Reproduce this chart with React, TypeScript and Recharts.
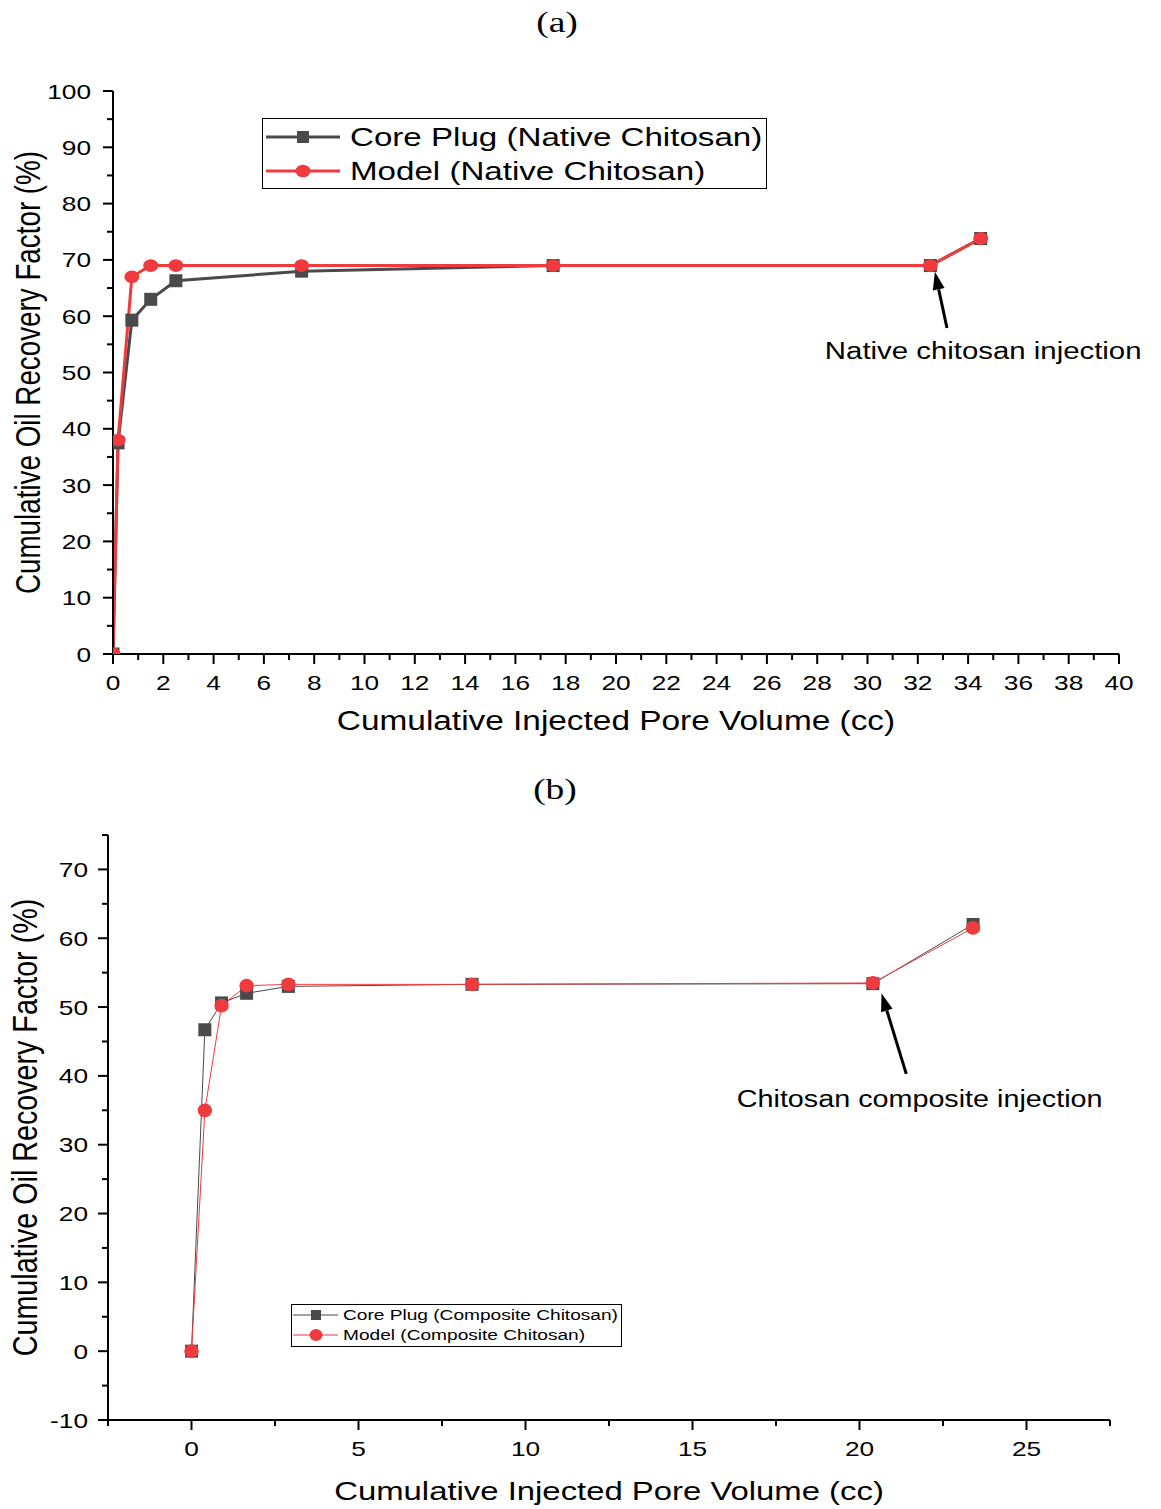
import React from "react";
import {
  LineChart,
  Line,
  XAxis,
  YAxis,
  Legend,
  Label,
  ReferenceLine,
  ReferenceDot
} from "recharts";

// ---- data: panel (a) native chitosan ----
const nativeX = [0, 0.2, 0.75, 1.5, 2.5, 7.5, 17.5, 32.5, 34.5];
const nativeCore = [0, 37.5, 59.3, 63, 66.3, 68, 69, 69, 73.8];
const nativeModel = [0, 38, 67, 69, 69, 69, 69, 69, 73.8];

// ---- data: panel (b) composite chitosan ----
const compositeX = [0, 0.4, 0.9, 1.65, 2.9, 8.4, 20.4, 23.4];
const compositeCore = [0, 46.7, 50.6, 52, 53, 53.3, 53.4, 62];
const compositeModel = [0, 35, 50.2, 53.1, 53.3, 53.3, 53.5, 61.5];

// ---- axis ticks ----
const nativeXTicks = Array.from({ length: 41 }, (_, i) => i);
const nativeYTicks = Array.from({ length: 21 }, (_, i) => i * 5);
const compositeXTicks = [-2.5, 0, 2.5, 5, 7.5, 10, 12.5, 15, 17.5, 20, 22.5, 25, 27.5];
const compositeYTicks = [-10, -5, 0, 5, 10, 15, 20, 25, 30, 35, 40, 45, 50, 55, 60, 65, 70, 75];

const nativeData = nativeX.map((x, i) => ({ x, core: nativeCore[i], model: nativeModel[i] }));
const compositeData = compositeX.map((x, i) => ({ x, core: compositeCore[i], model: compositeModel[i] }));

const GREY = "#4a4a4a";
const RED = "#ef3b3e";
const FONT = "'Liberation Sans', Arial, sans-serif";
// the original figure is stretched sideways, text included
const SX = 1.25;

const SText = ({ x, y, size, anchor = "middle", rotate = false, family = FONT, children }: any) => (
  <text
    transform={`translate(${x} ${y}) scale(${SX} 1)${rotate ? " rotate(-90)" : ""}`}
    textAnchor={anchor}
    dominantBaseline="central"
    fontSize={size}
    fontFamily={family}
    fill="#000"
  >
    {children}
  </text>
);

const SquareDot = ({ cx, cy, size }: any) => {
  if (cx == null || cy == null) return null;
  return <rect x={cx - size / 2} y={cy - size / 2} width={size} height={size} fill={GREY} />;
};

const CircleDot = ({ cx, cy, rx, ry }: any) => {
  if (cx == null || cy == null) return null;
  return <ellipse cx={cx} cy={cy} rx={rx} ry={ry} fill={RED} />;
};

const makeXTick = (step: number) => (props: any) => {
  const { x, y, payload } = props;
  const v = payload.value;
  const major = Math.abs(v / step - Math.round(v / step)) < 1e-6;
  return (
    <g>
      <line x1={x} x2={x} y1={y} y2={y + (major ? 10 : 6)} stroke="#000" strokeWidth={2} />
      {major && <SText x={x} y={y + 28} size={21}>{v}</SText>}
    </g>
  );
};

const makeYTick = (step: number, gap: number) => (props: any) => {
  const { x, y, payload } = props;
  const v = payload.value;
  const major = Math.abs(v / step - Math.round(v / step)) < 1e-6;
  return (
    <g>
      <line x1={x} x2={x - (major ? 10 : 6)} y1={y} y2={y} stroke="#000" strokeWidth={2} />
      {major && <SText x={x - gap} y={y} size={21} anchor="end">{v}</SText>}
    </g>
  );
};

const xTitle = (text: string, dy: number, size: number) => (props: any) => {
  const vb = props.viewBox;
  return <SText x={vb.x + vb.width / 2} y={vb.y + dy} size={size}>{text}</SText>;
};

const yTitle = (text: string, dx: number, size: number) => (props: any) => {
  const vb = props.viewBox;
  return <SText x={vb.x + vb.width - dx} y={vb.y + vb.height / 2} size={size} rotate>{text}</SText>;
};

const arrowShape = (width: number) => (props: any) => {
  const { x1, y1, x2, y2 } = props;
  if ([x1, y1, x2, y2].some(v => v == null)) return null;
  const dx = x2 - x1;
  const dy = y2 - y1;
  const len = Math.sqrt(dx * dx + dy * dy);
  const ux = dx / len;
  const uy = dy / len;
  const headL = 18;
  const headW = 6;
  const bx = x2 - ux * headL;
  const by = y2 - uy * headL;
  return (
    <g>
      <line x1={x1} y1={y1} x2={bx} y2={by} stroke="#000" strokeWidth={width} />
      <polygon
        points={`${x2},${y2} ${bx - uy * headW},${by + ux * headW} ${bx + uy * headW},${by - ux * headW}`}
        fill="#000"
      />
    </g>
  );
};

const noteShape = (text: string, size: number) => (props: any) => (
  <SText x={props.cx} y={props.cy} size={size}>{text}</SText>
);

const LegendBox = ({ labels, w, h, rows, lineX, markerX, textX, fontSize, sq, rx, ry, sw }: any) => (
  <div style={{ width: w, height: h, border: "1px solid #000", background: "#fff", boxSizing: "border-box" }}>
    <svg width={w - 2} height={h - 2} style={{ display: "block" }}>
      <line x1={lineX[0]} x2={lineX[1]} y1={rows[0]} y2={rows[0]} stroke={GREY} strokeWidth={sw} />
      <rect x={markerX - sq / 2} y={rows[0] - sq / 2} width={sq} height={sq} fill={GREY} />
      <SText x={textX} y={rows[0]} size={fontSize} anchor="start">{labels[0]}</SText>
      <line x1={lineX[0]} x2={lineX[1]} y1={rows[1]} y2={rows[1]} stroke={RED} strokeWidth={sw} />
      <ellipse cx={markerX} cy={rows[1]} rx={rx} ry={ry} fill={RED} />
      <SText x={textX} y={rows[1]} size={fontSize} anchor="start">{labels[1]}</SText>
    </svg>
  </div>
);

function NativeChart() {
  return (
    <LineChart width={1161} height={760} data={nativeData} margin={{ top: 91, right: 42, bottom: 76, left: 53 }}>
      <XAxis
        dataKey="x"
        type="number"
        domain={[0, 40]}
        allowDataOverflow
        ticks={nativeXTicks}
        interval={0}
        height={30}
        tickSize={0}
        tickMargin={0}
        tickLine={false}
        tick={makeXTick(2)}
        axisLine={{ stroke: "#000", strokeWidth: 2 }}
      >
        <Label content={xTitle("Cumulative Injected Pore Volume (cc)", 67, 26.7)} />
      </XAxis>
      <YAxis
        type="number"
        domain={[0, 100]}
        allowDataOverflow
        ticks={nativeYTicks}
        interval={0}
        width={60}
        tickSize={0}
        tickMargin={0}
        tickLine={false}
        tick={makeYTick(10, 22)}
        axisLine={{ stroke: "#000", strokeWidth: 2 }}
      >
        <Label content={yTitle("Cumulative Oil Recovery Factor (%)", 85, 27.8)} />
      </YAxis>
      <Legend
        layout="vertical"
        align="center"
        verticalAlign="middle"
        wrapperStyle={{ left: 262, top: 118, width: 505 }}
        content={() => (
          <LegendBox
            labels={["Core Plug (Native Chitosan)", "Model (Native Chitosan)"]}
            w={505}
            h={71}
            rows={[18, 52]}
            lineX={[3, 77]}
            markerX={40}
            textX={87}
            fontSize={26.5}
            sq={12}
            rx={7.5}
            ry={6.3}
            sw={3}
          />
        )}
      />
      <Line
        dataKey="core"
        type="linear"
        stroke={GREY}
        strokeWidth={3}
        dot={(p: any) => <SquareDot key={`c${p.index}`} {...p} size={13} />}
        activeDot={false}
        isAnimationActive={false}
      />
      <Line
        dataKey="model"
        type="linear"
        stroke={RED}
        strokeWidth={3}
        dot={(p: any) => <CircleDot key={`m${p.index}`} {...p} rx={7.5} ry={6.4} />}
        activeDot={false}
        isAnimationActive={false}
      />
      <ReferenceLine segment={[{ x: 33.16, y: 57.9 }, { x: 32.68, y: 67.9 }]} shape={arrowShape(3)} />
      <ReferenceDot x={34.6} y={53.8} r={0} shape={noteShape("Native chitosan injection", 23.5)} />
    </LineChart>
  );
}

function CompositeChart() {
  return (
    <LineChart width={1161} height={749} data={compositeData} margin={{ top: 75, right: 51, bottom: 59, left: 48 }}>
      <XAxis
        dataKey="x"
        type="number"
        domain={[-2.5, 27.5]}
        ticks={compositeXTicks}
        interval={0}
        height={30}
        tickSize={0}
        tickMargin={0}
        tickLine={false}
        tick={makeXTick(5)}
        axisLine={{ stroke: "#000", strokeWidth: 2 }}
      >
        <Label content={xTitle("Cumulative Injected Pore Volume (cc)", 71, 26.3)} />
      </XAxis>
      <YAxis
        type="number"
        domain={[-10, 75]}
        ticks={compositeYTicks}
        interval={0}
        width={60}
        tickSize={0}
        tickMargin={0}
        tickLine={false}
        tick={makeYTick(10, 20)}
        axisLine={{ stroke: "#000", strokeWidth: 2 }}
      >
        <Label content={yTitle("Cumulative Oil Recovery Factor (%)", 83, 28.7)} />
      </YAxis>
      <Legend
        layout="vertical"
        align="center"
        verticalAlign="middle"
        wrapperStyle={{ left: 291, top: 544, width: 331 }}
        content={() => (
          <LegendBox
            labels={["Core Plug (Composite Chitosan)", "Model (Composite Chitosan)"]}
            w={331}
            h={43}
            rows={[10, 30]}
            lineX={[1, 46]}
            markerX={24}
            textX={51}
            fontSize={15.3}
            sq={10}
            rx={6.5}
            ry={6}
            sw={1}
          />
        )}
      />
      <Line
        dataKey="core"
        type="linear"
        stroke={GREY}
        strokeWidth={1}
        dot={(p: any) => <SquareDot key={`c${p.index}`} {...p} size={13} />}
        activeDot={false}
        isAnimationActive={false}
      />
      <Line
        dataKey="model"
        type="linear"
        stroke={RED}
        strokeWidth={1}
        dot={(p: any) => <CircleDot key={`m${p.index}`} {...p} rx={7.2} ry={6.9} />}
        activeDot={false}
        isAnimationActive={false}
      />
      <ReferenceLine segment={[{ x: 21.4, y: 40.3 }, { x: 20.66, y: 52 }]} shape={arrowShape(3)} />
      <ReferenceDot x={21.8} y={36.6} r={0} shape={noteShape("Chitosan composite injection", 23)} />
    </LineChart>
  );
}

export default function App() {
  const panelTitle: React.CSSProperties = {
    position: "absolute",
    fontFamily: "'Liberation Serif', 'Times New Roman', serif",
    fontSize: 30,
    lineHeight: "36px",
    color: "#000",
    whiteSpace: "nowrap",
    transform: `translateX(-50%) scaleX(${SX})`
  };
  return (
    <div style={{ position: "absolute", left: 0, top: 0, width: 1161, height: 1509, background: "#fff", overflow: "hidden" }}>
      <div style={{ ...panelTitle, top: 4, left: 557 }}>(a)</div>
      <div style={{ ...panelTitle, top: 771, left: 555 }}>(b)</div>
      <div style={{ position: "absolute", left: 0, top: 0 }}>
        <NativeChart />
      </div>
      <div style={{ position: "absolute", left: 0, top: 760 }}>
        <CompositeChart />
      </div>
    </div>
  );
}
